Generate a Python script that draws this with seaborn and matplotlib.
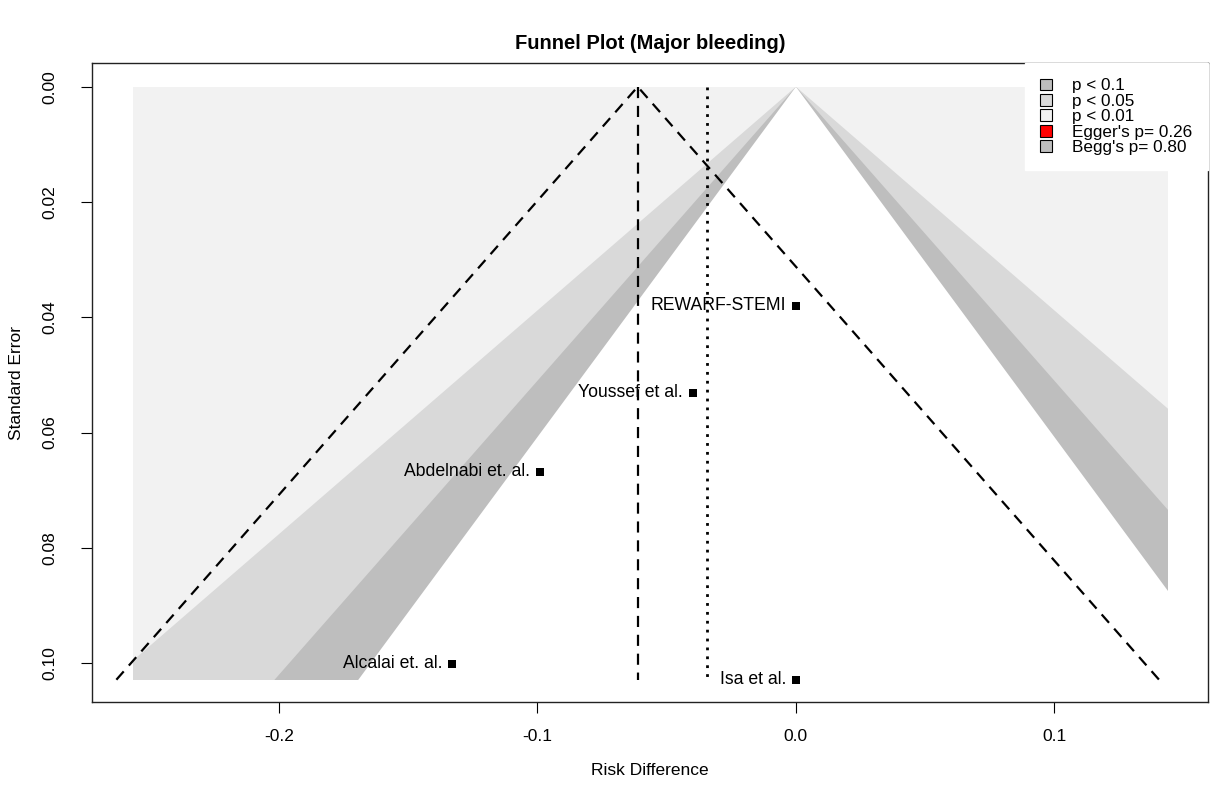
import matplotlib
matplotlib.use("Agg")
import matplotlib.pyplot as plt
import matplotlib.patches as mpatches
import seaborn as sns
import pandas as pd
import numpy as np

# study data
studies = ["REWARF-STEMI", "Youssef et al.", "Abdelnabi et. al.", "Alcalai et. al.", "Isa et al."]
risk_diff = [0.0, -0.040, -0.099, -0.133, 0.0]
std_err = [0.0380, 0.0531, 0.0668, 0.1001, 0.1029]

pooled_est = -0.0612   # dashed funnel centre
other_est = -0.0344    # dotted line
shade_x = [-0.2565, 0.1439]
z_levels = [2.576, 1.960, 1.645]          # 99%, 95%, 90%
shade_cols = ["#D9D9D9", "#BEBEBE", "#FFFFFF"]
bg_col = "#F2F2F2"

legend_labels = ["p < 0.1", "p < 0.05", "p < 0.01", "Egger's p= 0.26", "Begg's p= 0.80"]
legend_cols = ["#BEBEBE", "#D9D9D9", "#F2F2F2", "#FF0000", "#BEBEBE"]

x_ticks = [-0.2, -0.1, 0.0, 0.1]
y_ticks = [0.00, 0.02, 0.04, 0.06, 0.08, 0.10]

df = pd.DataFrame({"study": studies, "Risk Difference": risk_diff, "Standard Error": std_err})

sns.set_theme(style="white")
plt.rcParams["font.family"] = ["Liberation Sans", "DejaVu Sans"]
plt.rcParams["text.color"] = "black"
plt.rcParams["axes.labelcolor"] = "black"
plt.rcParams["xtick.color"] = "black"
plt.rcParams["ytick.color"] = "black"

fig = plt.figure(figsize=(12.11, 7.89), dpi=100)
ax = fig.add_axes([0.076, 0.110, 0.9215, 0.810])

se_max = max(std_err)

# contour-enhanced shading, clipped to the background rectangle
bg = mpatches.Rectangle((shade_x[0], 0), shade_x[1] - shade_x[0], se_max,
                        facecolor=bg_col, edgecolor="none", zorder=1)
ax.add_patch(bg)
ext = se_max * 1.05
for z, col in zip(z_levels, shade_cols):
    poly = mpatches.Polygon([(0, 0), (-z * ext, ext), (z * ext, ext)],
                            closed=True, facecolor=col, edgecolor="none", zorder=2)
    ax.add_patch(poly)
    poly.set_clip_path(bg)

# funnel around pooled estimate
ax.plot([pooled_est - 1.96 * se_max, pooled_est, pooled_est + 1.96 * se_max],
        [se_max, 0, se_max], color="black", lw=1.6, ls=(0, (5, 3.5)), zorder=3)
ax.plot([pooled_est, pooled_est], [0, se_max], color="black", lw=1.6,
        ls=(0, (5, 3.5)), zorder=3)
ax.plot([other_est, other_est], [0, se_max], color="black", lw=2,
        ls=(0, (1, 2.2)), zorder=3)

sns.scatterplot(data=df, x="Risk Difference", y="Standard Error", marker="s",
                color="black", s=30, edgecolor="black", linewidth=0, ax=ax, zorder=4)
for name, xv, yv in zip(studies, risk_diff, std_err):
    ax.annotate(name, (xv, yv), xytext=(-7, 0), textcoords="offset points",
                ha="right", va="center", fontsize=12.7, color="black", zorder=5)

ax.set_xlim(-0.2723, 0.1594)
ax.set_ylim(0.1068, -0.0041)
ax.set_xticks(x_ticks)
ax.set_xticklabels([f"{t:.1f}" for t in x_ticks])
ax.set_yticks(y_ticks)
ax.set_yticklabels([f"{t:.2f}" for t in y_ticks], rotation=90, va="center")
ax.tick_params(axis="both", direction="out", length=8, width=0.8, color="black",
               labelsize=12.5, bottom=True, left=True)
ax.tick_params(axis="x", pad=11)
ax.tick_params(axis="y", pad=17)
for sp in ax.spines.values():
    sp.set_color("#222222")
    sp.set_linewidth(1.0)

ax.set_xlabel("Risk Difference", fontsize=12.5, labelpad=14)
ax.set_ylabel("Standard Error", fontsize=12.5, labelpad=13)
ax.set_title("Funnel Plot (Major bleeding)", fontsize=14.5, fontweight="bold", pad=10)

handles = [mpatches.Patch(facecolor=c, edgecolor="black", linewidth=0.8) for c in legend_cols]
leg = ax.legend(handles, legend_labels, loc="upper right", fontsize=12.3,
                frameon=True, fancybox=False, framealpha=1, borderaxespad=0,
                handlelength=0.7, handleheight=0.7, handletextpad=1.2,
                labelspacing=0.02, borderpad=0.9)
leg.get_frame().set_facecolor("white")
leg.get_frame().set_edgecolor("white")
leg.set_zorder(6)

plt.savefig("out.png", dpi=100)
